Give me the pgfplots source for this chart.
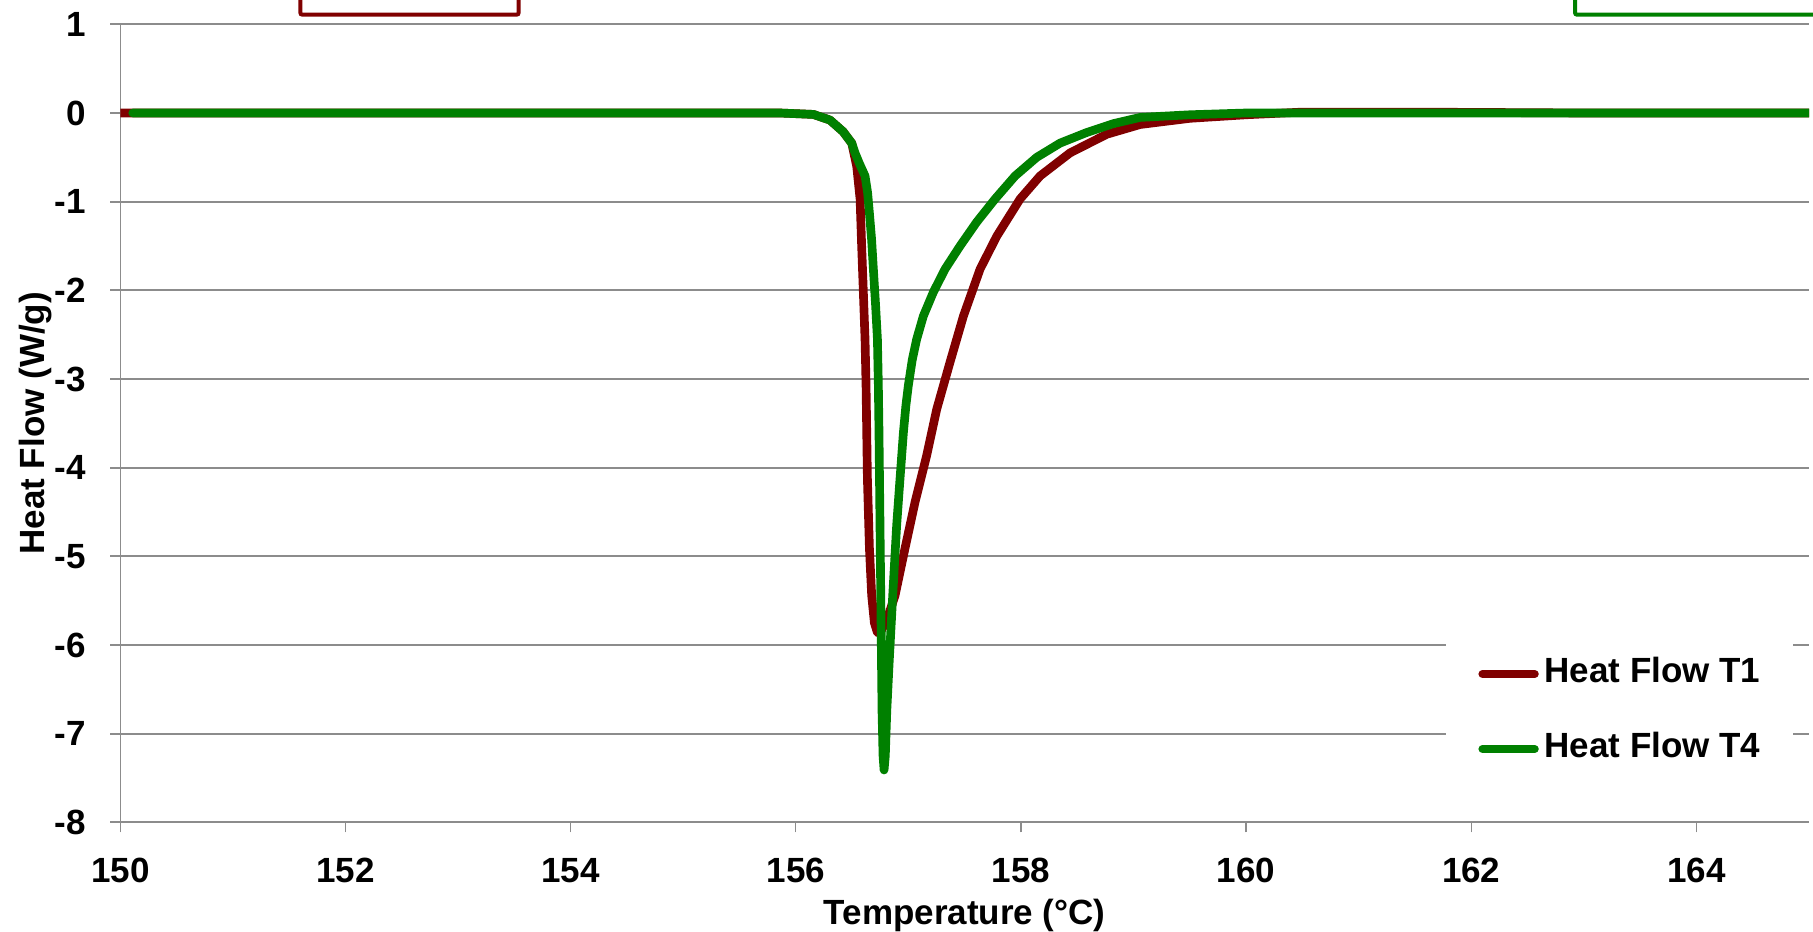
\documentclass[border=0pt]{standalone}
\usepackage{pgfplots}
\pgfplotsset{compat=1.18}
\usepackage{fontspec}
\setmainfont{Liberation Sans}
\usetikzlibrary{calc}
\definecolor{tred}{HTML}{800000}
\definecolor{tgreen}{HTML}{008000}
\definecolor{gridgray}{HTML}{8C8C8C}

\pgfplotstableread{
T HF
150.00 0.00
155.00 0.00
155.86 0.00
156.156 -0.016
156.304 -0.08
156.42 -0.21
156.497 -0.34
156.541 -0.60
156.571 -0.97
156.585 -1.50
156.600 -2.02
156.615 -2.55
156.624 -3.07
156.636 -4.12
156.654 -4.91
156.674 -5.44
156.698 -5.75
156.725 -5.86
156.763 -5.83
156.793 -5.75
156.835 -5.62
156.882 -5.44
156.970 -4.91
157.059 -4.39
157.163 -3.86
157.252 -3.34
157.370 -2.81
157.489 -2.29
157.637 -1.76
157.785 -1.39
157.992 -0.97
158.170 -0.71
158.436 -0.45
158.762 -0.24
159.058 -0.13
159.50 -0.06
160.00 -0.02
160.50 0.01
161.50 0.01
163.00 0.00
165.00 0.00
}\dataA

\pgfplotstableread{
T HF
150.11 0.00
155.00 0.00
155.86 0.00
156.156 -0.016
156.304 -0.08
156.42 -0.21
156.497 -0.34
156.526 -0.45
156.565 -0.57
156.615 -0.71
156.638 -0.90
156.654 -1.13
156.673 -1.42
156.689 -1.76
156.708 -2.15
156.725 -2.55
156.733 -3.05
156.739 -3.60
156.748 -4.65
156.757 -5.70
156.766 -6.75
156.775 -7.25
156.784 -7.41
156.795 -7.25
156.808 -6.75
156.828 -6.23
156.861 -5.44
156.896 -4.65
156.926 -4.12
156.956 -3.60
156.978 -3.30
157.000 -3.07
157.035 -2.78
157.074 -2.55
157.133 -2.29
157.222 -2.02
157.326 -1.76
157.459 -1.50
157.607 -1.23
157.770 -0.97
157.948 -0.71
158.140 -0.50
158.347 -0.34
158.584 -0.22
158.821 -0.12
159.058 -0.05
159.50 -0.02
160.00 0.00
165.00 0.00
}\dataB

\begin{document}
\begin{tikzpicture}[font=\fontsize{10.5}{12}\selectfont\bfseries]
\begin{axis}[
  name=ax,
  scale only axis,
  width=506.6pt, height=239.4pt,
  xmin=150, xmax=165, ymin=-8, ymax=1,
  xtick={150,152,...,164},
  xticklabels={150,152,154,156,158,160,162,164},
  ytick={-8,-7,...,1},
  yticklabels={-8,-7,-6,-5,-4,-3,-2,-1,0,1},
  ymajorgrids,
  grid style={gridgray, line width=0.6pt},
  axis lines*=left,
  axis line style={gridgray, line width=0.4pt},
  x axis line style={line width=0.6pt},
  tick align=outside,
  major tick length=3pt,
  xtick style={gridgray, line width=0.4pt},
  ytick style={gridgray, line width=0.6pt},
  ticklabel style={font=\fontsize{10.5}{12}\selectfont\bfseries},
  xticklabel style={anchor=base, yshift=-15pt},
  yticklabel style={xshift=-3.9pt},
  xlabel={Temperature (°C)},
  ylabel={Heat Flow (W/g)},
  label style={font=\fontsize{10.5}{12}\selectfont\bfseries},
  xlabel style={at={(axis description cs:0.5,0)}, anchor=base, yshift=-30.8pt},
  ylabel style={at={(axis description cs:-0.0452,0.5)}, anchor=base},
  legend style={at={(rel axis cs:0.7847,0.2613)}, anchor=north west,
    draw=none, fill=white, inner xsep=9.7pt, inner ysep=13pt,
    row sep=12.8pt,
    nodes={inner sep=0pt, text height=7.5pt, text depth=2.2pt},
    font=\fontsize{10.5}{12}\selectfont\bfseries},
  legend cell align=left,
  legend image code/.code={\draw[#1, line width=2.4pt, line cap=round] (1.2pt,0pt) -- (16.9pt,0pt);},
]
\addplot[tred, line width=2.6pt, line join=round, line cap=round] table[x=T, y=HF] {\dataA};
\addlegendentry{\,Heat Flow T1}
\addplot[tgreen, line width=2.6pt, line join=round, line cap=round] table[x=T, y=HF] {\dataB};
\addlegendentry{\,Heat Flow T4}
\end{axis}
\draw[tred, line width=1.2pt, rounded corners=0.6pt] ($(ax.north west)+(54pt,2.9pt)$) rectangle ($(ax.north west)+(119.5pt,40pt)$);
\draw[tgreen, line width=1.2pt, rounded corners=0.6pt] ($(ax.north west)+(436.4pt,2.9pt)$) rectangle ($(ax.north west)+(560pt,40pt)$);
\pgfresetboundingbox
\useasboundingbox ($(ax.south west)+(-36.1pt,-32.9pt)$) rectangle ($(ax.north east)+(1.2pt,7.3pt)$);
\end{tikzpicture}
\end{document}
